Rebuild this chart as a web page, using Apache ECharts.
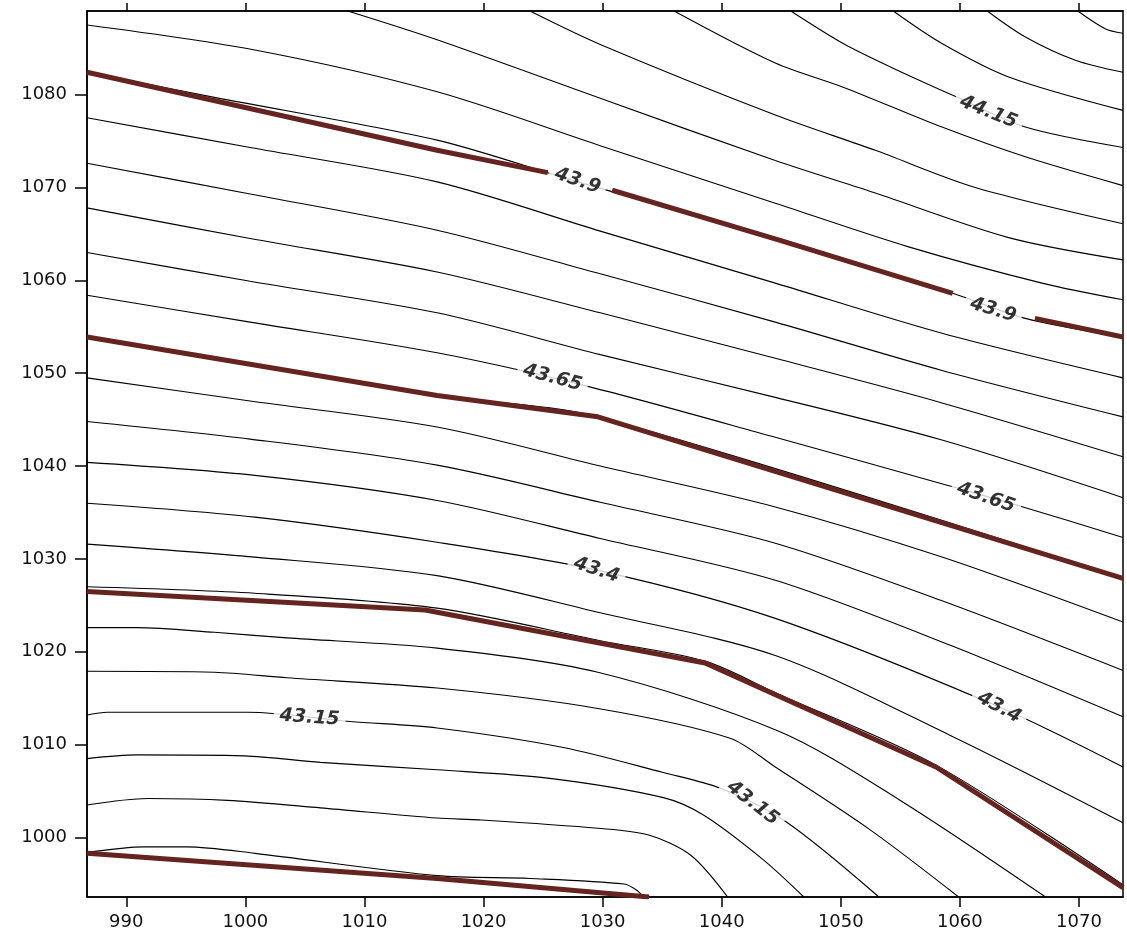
<!DOCTYPE html>
<html><head><meta charset="utf-8">
<script src="https://cdn.jsdelivr.net/npm/echarts@6/dist/echarts.min.js"></script>
<style>html,body{margin:0;padding:0;background:#fff}#c{width:1127px;height:932px}</style>
</head><body><div id="c"></div>
<script>
// axis ticks / ranges
const xTicks = [990,1000,1010,1020,1030,1040,1050,1060,1070];
const yTicks = [1000,1010,1020,1030,1040,1050,1060,1070,1080];
const xRange = [986.7, 1073.7];
const yRange = [993.6, 1089.0];

// thin contour lines (x, y)
const contour01 = [[1069.9,1089.0],[1072.2,1087.1],[1073.7,1086.6]];
const contour02 = [[1062.3,1089.0],[1065.5,1086.2],[1069.7,1083.7],[1073.7,1082.4]];
const contour03 = [[1054.4,1089.0],[1058.5,1085.5],[1064.1,1081.9],[1073.7,1078.3]];
const contour04 = [[1045.8,1089.0],[1050.2,1085.5],[1054.3,1082.9],[1059.8,1079.7],[1065.5,1076.5],[1073.7,1074.3]];
const contour05 = [[1036.0,1089.0],[1044.5,1083.4],[1050.2,1080.8],[1058.5,1076.5],[1065.5,1073.3],[1073.7,1070.2]];
const contour06 = [[1023.9,1089.0],[1029.8,1085.4],[1044.5,1077.8],[1052.9,1074.0],[1061.3,1070.0],[1073.7,1066.1]];
const contour07 = [[1008.6,1089.0],[1016.1,1085.9],[1029.8,1079.6],[1044.5,1072.9],[1052.9,1069.4],[1064.1,1064.6],[1073.7,1062.2]];
const contour08 = [[986.7,1087.5],[1000.8,1084.8],[1016.1,1080.3],[1029.8,1074.5],[1044.5,1068.3],[1055.7,1063.6],[1066.9,1059.7],[1073.7,1057.9]];
const contour09 = [[986.7,1082.4],[997.4,1079.7],[1016.1,1075.1],[1027.9,1070.6],[1044.5,1064.6],[1059.4,1058.6],[1065.5,1055.9],[1073.7,1053.9]];
const contour10 = [[986.7,1077.5],[1000.4,1074.3],[1016.1,1070.6],[1029.8,1065.3],[1044.5,1059.7],[1058.5,1054.3],[1073.7,1049.5]];
const contour11 = [[986.7,1072.6],[1000.4,1069.3],[1016.1,1065.4],[1029.8,1060.7],[1044.5,1055.5],[1058.5,1050.3],[1073.7,1045.3]];
const contour12 = [[986.7,1067.8],[1000.4,1064.5],[1016.1,1060.9],[1029.8,1056.5],[1044.5,1051.6],[1058.5,1046.8],[1073.7,1041.0]];
const contour13 = [[986.7,1063.0],[1000.4,1059.9],[1016.1,1056.5],[1029.8,1052.0],[1044.5,1047.4],[1058.5,1042.8],[1073.7,1036.6]];
const contour14 = [[986.7,1058.4],[1000.4,1055.5],[1016.1,1052.2],[1029.0,1048.5],[1044.5,1043.1],[1059.0,1037.9],[1065.3,1035.6],[1073.7,1032.3]];
const contour15 = [[986.7,1053.9],[1016.1,1047.6],[1029.6,1045.3],[1073.7,1027.9]];
const contour16 = [[986.7,1049.5],[1000.4,1047.0],[1016.1,1044.2],[1029.8,1040.0],[1044.5,1035.6],[1058.5,1030.2],[1073.7,1023.2]];
const contour17 = [[986.7,1044.8],[1000.4,1042.9],[1016.1,1040.1],[1029.8,1036.1],[1044.5,1031.7],[1058.5,1025.5],[1073.7,1018.0]];
const contour18 = [[986.7,1040.4],[1000.8,1039.0],[1016.1,1036.3],[1029.8,1032.2],[1044.5,1027.7],[1059.2,1020.7],[1073.7,1013.0]];
const contour19 = [[986.7,1036.0],[1000.8,1034.5],[1016.1,1031.8],[1029.5,1028.8],[1044.5,1023.6],[1063.4,1014.0],[1073.7,1007.6]];
const contour20 = [[986.7,1031.6],[1000.8,1030.2],[1016.1,1028.2],[1029.8,1024.2],[1044.5,1019.6],[1059.2,1011.0],[1073.7,1001.6]];
const contour21 = [[986.7,1027.0],[1000.8,1026.3],[1016.1,1024.7],[1029.8,1021.2],[1038.6,1019.0],[1044.5,1015.6],[1058.0,1007.8],[1073.7,994.9]];
const contour22 = [[986.7,1022.6],[990.9,1022.6],[997.4,1022.1],[1003.5,1021.5],[1016.1,1020.4],[1029.6,1017.8],[1044.9,1011.4],[1055.0,1004.0],[1067.2,993.6]];
const contour23 = [[986.7,1017.9],[997.4,1017.8],[1003.5,1017.2],[1016.1,1016.1],[1029.6,1013.9],[1040.7,1010.7],[1044.5,1007.6],[1052.5,1000.8],[1059.9,993.6]];
const contour24 = [[986.7,1013.2],[988.4,1013.5],[1000.2,1013.5],[1008.8,1012.5],[1016.1,1011.8],[1026.7,1009.7],[1035.1,1007.0],[1039.9,1005.3],[1045.4,1001.7],[1053.2,993.6]];
const contour25 = [[986.7,1008.5],[990.9,1008.9],[999.9,1008.8],[1006.3,1008.1],[1016.1,1007.3],[1025.4,1006.4],[1035.1,1004.3],[1038.5,1002.4],[1043.5,997.6],[1046.9,993.6]];
const contour26 = [[986.7,1003.5],[991.8,1004.2],[998.5,1004.0],[1006.3,1003.2],[1016.1,1002.1],[1019.7,1001.9],[1029.6,1001.0],[1033.8,1000.3],[1037.4,998.1],[1040.5,993.6]];
const contour27 = [[986.7,998.4],[991.5,999.0],[995.1,999.0],[1000.8,998.3],[1016.1,995.9],[1023.9,995.6],[1031.8,995.0],[1032.9,994.3],[1033.4,993.6]];

// heavy (highlighted) lines, broken where labels sit
const heavy1a = [[986.7,1082.4],[1016.1,1074.0],[1025.4,1071.6]];
const heavy1b = [[1030.8,1069.7],[1044.9,1064.3],[1059.4,1058.6]];
const heavy1c = [[1066.3,1055.9],[1073.7,1053.9]];
const heavy2 = [[986.7,1053.9],[1016.1,1047.6],[1029.6,1045.3],[1073.7,1027.9]];
const heavy3 = [[986.7,1026.5],[1015.1,1024.5],[1038.6,1018.8],[1058.0,1007.6],[1073.7,994.6]];
const heavy4 = [[986.7,998.3],[1016.1,995.6],[1033.9,993.6]];

// contour labels
const contourLabels = ['44.15','43.9','43.9','43.65','43.65','43.4','43.4','43.15','43.15'];
const contourLabelAt = [[1062.4,1078.1],[1027.9,1070.7],[1062.8,1056.8],[1025.8,1049.5],[1062.2,1036.6],[1029.5,1028.8],[1063.3,1014.0],[1005.4,1012.9],[1042.6,1003.7]];

const labelAngles = [-22,-19,-17,-15,-19,-18,-28,-4,-38];
const thinLines = [contour01,contour02,contour03,contour04,contour05,contour06,contour07,contour08,contour09,contour10,contour11,contour12,contour13,contour14,contour15,contour16,contour17,contour18,contour19,contour20,contour21,contour22,contour23,contour24,contour25,contour26,contour27];
const heavyLines = [heavy1a,heavy1b,heavy1c,heavy2,heavy3,heavy4];

const series = [];
thinLines.forEach(d => series.push({
  type:'line', data:d, symbol:'none', smooth:0.3, silent:true, z:2,
  lineStyle:{color:'#000', width:1.1}
}));
heavyLines.forEach(d => series.push({
  type:'line', data:d, symbol:'none', smooth:false, silent:true, z:3,
  lineStyle:{color:'#662420', width:5}
}));
series.push({
  type:'scatter', z:5, silent:true, symbolSize:1,
  itemStyle:{color:'rgba(0,0,0,0)'},
  data: contourLabelAt.map((p,i)=>({value:p, name:contourLabels[i], label:{rotate:labelAngles[i]}})),
  label:{show:true, position:'inside', formatter:'{b}', color:'#000',
    textBorderWidth:0, textBorderColor:'transparent',
    fontFamily:'DejaVu Sans', fontSize:19, fontWeight:'bold', fontStyle:'italic',
    backgroundColor:'#fff', padding:[1,6]}
});

const plain = v => String(v);
const axisFont = {fontFamily:'DejaVu Sans', fontSize:18, color:'#111', formatter:plain};
const chart = echarts.init(document.getElementById('c'));
chart.setOption({
  animation:false,
  backgroundColor:'#fff',
  grid:{left:87, right:4, top:11, bottom:35, show:true, borderColor:'#000', borderWidth:1.5, containLabel:false},
  xAxis:[
    {type:'value', position:'bottom', min:xRange[0], max:xRange[1],
     axisLine:{show:true, onZero:false, lineStyle:{color:'#000', width:1.5}},
     axisTick:{show:true, length:10, customValues:xTicks, lineStyle:{color:'#000', width:1.5}},
     axisLabel:Object.assign({show:true, margin:16, customValues:xTicks}, axisFont),
     splitLine:{show:false}},
    {type:'value', position:'top', min:xRange[0], max:xRange[1],
     axisLine:{show:true, onZero:false, lineStyle:{color:'#000', width:1.5}},
     axisTick:{show:true, length:8, customValues:xTicks, lineStyle:{color:'#000', width:1.5}},
     axisLabel:{show:false},
     splitLine:{show:false}}
  ],
  yAxis:{type:'value', min:yRange[0], max:yRange[1],
     axisLine:{show:true, onZero:false, lineStyle:{color:'#000', width:1.5}},
     axisTick:{show:true, length:12, customValues:yTicks, lineStyle:{color:'#000', width:1.5}},
     axisLabel:Object.assign({show:true, margin:20, customValues:yTicks}, axisFont),
     splitLine:{show:false}},
  series: series
});
</script>
</body></html>
